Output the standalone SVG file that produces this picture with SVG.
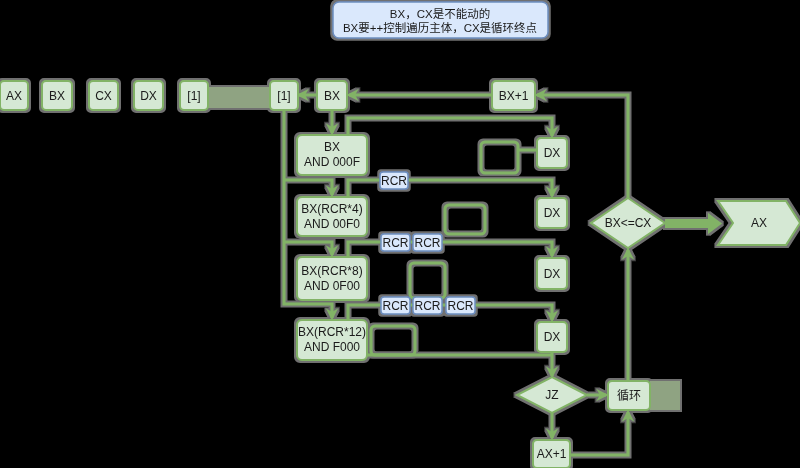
<svg xmlns="http://www.w3.org/2000/svg" width="800" height="468" viewBox="0 0 800 468">
<defs>
<style>
.n rect,.n path{fill:#d5e8d4;stroke:#82b366;stroke-width:2}
.t{font-family:"Liberation Sans",Arial,"Noto Sans CJK SC",sans-serif;font-size:12px;fill:#1a1a1a;text-anchor:middle;dominant-baseline:central}
.r rect{fill:#dae8fc;stroke:#6c8ebf;stroke-width:1.5}
.e{fill:none;stroke:#82b366;stroke-width:3}
.lp{fill:none;stroke:#82b366;stroke-width:3}
.band{fill:#8fa382}
</style>
<marker id="a" viewBox="0 0 10 10" refX="8" refY="5" markerWidth="4" markerHeight="4" orient="auto-start-reverse" markerUnits="strokeWidth">
<path d="M0,0 L10,5 L0,10 L3,5 z" fill="#82b366"/>
</marker>
<filter id="h" x="-5%" y="-5%" width="110%" height="110%">
<feMorphology in="SourceAlpha" operator="dilate" radius="1.5" result="d"/>
<feFlood flood-color="#707070"/>
<feComposite in2="d" operator="in" result="g"/>
<feMerge><feMergeNode in="g"/><feMergeNode in="SourceGraphic"/></feMerge>
</filter>
</defs>
<rect width="800" height="468" fill="#000"/>
<g filter="url(#h)">
<g id="bands">
<rect class="band" x="208" y="87" width="62" height="21"/>
<rect class="band" x="650" y="381" width="30" height="29"/>
</g>
<g id="connectors">
<path class="e" d="M317,95 H299" marker-end="url(#a)"/>
<path class="e" d="M628,198 V95 H537" marker-end="url(#a)"/>
<path class="e" d="M492,95 H349" marker-end="url(#a)"/>
<path class="e" d="M332,110 V133" marker-end="url(#a)"/>
<path class="e" d="M348,135 V118 H552 V136" marker-end="url(#a)"/>
<path class="e" d="M284,110 V304 H332 V318" marker-end="url(#a)"/>
<path class="e" d="M284,180 H332 V195" marker-end="url(#a)"/>
<path class="e" d="M284,242 H332 V255" marker-end="url(#a)"/>
<path class="e" d="M348,197 V180 H552 V196" marker-end="url(#a)"/>
<path class="e" d="M348,257 V242 H552 V256" marker-end="url(#a)"/>
<path class="e" d="M348,320 V305 H552 V320" marker-end="url(#a)"/>
<path class="e" d="M367,355 H552"/>
<path class="e" d="M552,352 V376" marker-end="url(#a)"/>
<path class="e" d="M587,395 H606" marker-end="url(#a)"/>
<path class="e" d="M552,413 V438" marker-end="url(#a)"/>
<path class="e" d="M570,455 H628 V412" marker-end="url(#a)"/>
<path class="e" d="M628,380 V250" marker-end="url(#a)"/>
<path class="e" d="M518,150 H537"/>
<path d="M665,219 H708 V213 L722,223.5 L708,234 V228 H665 Z" fill="#82b366"/>
<rect class="lp" x="481" y="142" width="37" height="31" rx="4"/>
<rect class="lp" x="445" y="205" width="40" height="29" rx="4"/>
<rect class="lp" x="410" y="263" width="35" height="35" rx="4"/>
<rect class="lp" x="371" y="326" width="44" height="29" rx="4"/>
</g>
<g id="note" class="r"><rect x="333" y="2" width="215" height="36" rx="6"/><text class="t" x="440" y="13.5" style="font-family:'Liberation Sans','Noto Sans CJK SC',sans-serif;font-size:11.5px">BX，CX是不能动的</text><text class="t" x="440" y="27.5" style="font-family:'Liberation Sans','Noto Sans CJK SC',sans-serif;font-size:11.5px">BX要++控制遍历主体，CX是循环终点</text></g>
<g id="ax0" class="n"><rect x="0" y="81" width="28" height="29" rx="4"/><text class="t" x="14" y="95.5">AX</text></g>
<g id="bx0" class="n"><rect x="42" y="81" width="30" height="29" rx="4"/><text class="t" x="57" y="95.5">BX</text></g>
<g id="cx0" class="n"><rect x="89" y="81" width="29" height="29" rx="4"/><text class="t" x="103.5" y="95.5">CX</text></g>
<g id="dx0" class="n"><rect x="134" y="81" width="29" height="29" rx="4"/><text class="t" x="148.5" y="95.5">DX</text></g>
<g id="m0" class="n"><rect x="180" y="81" width="28" height="29" rx="4"/><text class="t" x="194" y="95.5">[1]</text></g>
<g id="m1" class="n"><rect x="270" y="81" width="28" height="29" rx="4"/><text class="t" x="284" y="95.5">[1]</text></g>
<g id="bx1" class="n"><rect x="317" y="81" width="30" height="29" rx="4"/><text class="t" x="332" y="95.5">BX</text></g>
<g id="bxp1" class="n"><rect x="492" y="81" width="43" height="29" rx="4"/><text class="t" x="513.5" y="95.5">BX+1</text></g>
<g id="and1" class="n"><rect x="297" y="135" width="70" height="40" rx="5"/><text class="t" x="332" y="147">BX</text><text class="t" x="332" y="162">AND 000F</text></g>
<g id="and2" class="n"><rect x="297" y="197" width="70" height="39" rx="5"/><text class="t" x="332" y="209">BX(RCR*4)</text><text class="t" x="332" y="224">AND 00F0</text></g>
<g id="and3" class="n"><rect x="297" y="257" width="70" height="43" rx="5"/><text class="t" x="332" y="271">BX(RCR*8)</text><text class="t" x="332" y="286">AND 0F00</text></g>
<g id="and4" class="n"><rect x="297" y="320" width="70" height="40" rx="5"/><text class="t" x="332" y="332">BX(RCR*12)</text><text class="t" x="332" y="347">AND F000</text></g>
<g id="dx1" class="n"><rect x="537" y="138" width="30" height="30" rx="4"/><text class="t" x="552" y="153">DX</text></g>
<g id="dx2" class="n"><rect x="537" y="198" width="30" height="30" rx="4"/><text class="t" x="552" y="213">DX</text></g>
<g id="dx3" class="n"><rect x="537" y="258" width="30" height="31" rx="4"/><text class="t" x="552" y="273.5">DX</text></g>
<g id="dx4" class="n"><rect x="537" y="322" width="30" height="30" rx="4"/><text class="t" x="552" y="337">DX</text></g>
<g id="rcr1" class="r"><rect x="380" y="172" width="28" height="17" rx="3"/><text class="t" x="394" y="180.5">RCR</text></g>
<g id="rcr2a" class="r"><rect x="381" y="234" width="29" height="17" rx="3"/><text class="t" x="395.5" y="242.5">RCR</text></g>
<g id="rcr2b" class="r"><rect x="413" y="234" width="29" height="17" rx="3"/><text class="t" x="427.5" y="242.5">RCR</text></g>
<g id="rcr3a" class="r"><rect x="381" y="297" width="29" height="17" rx="3"/><text class="t" x="395.5" y="305.5">RCR</text></g>
<g id="rcr3b" class="r"><rect x="413" y="297" width="29" height="17" rx="3"/><text class="t" x="427.5" y="305.5">RCR</text></g>
<g id="rcr3c" class="r"><rect x="446" y="297" width="29" height="17" rx="3"/><text class="t" x="460.5" y="305.5">RCR</text></g>
<g id="cmp" class="n"><path d="M628,198 L665,223 L628,248 L591,223 Z"/><text class="t" x="628" y="223">BX&lt;=CX</text></g>
<g id="axout" class="n"><path d="M718,201 H786 L800,223 L786,245 H718 L733,223 Z"/><text class="t" x="759" y="223">AX</text></g>
<g id="jz" class="n"><path d="M552,377 L587,395 L552,413 L517,395 Z"/><text class="t" x="552" y="395">JZ</text></g>
<g id="loop" class="n"><rect x="608" y="381" width="42" height="29" rx="4"/><text class="t" x="629" y="395.5">循环</text></g>
<g id="axp1" class="n"><rect x="533" y="440" width="37" height="28" rx="4"/><text class="t" x="551.5" y="454">AX+1</text></g>
</g>
</svg>
